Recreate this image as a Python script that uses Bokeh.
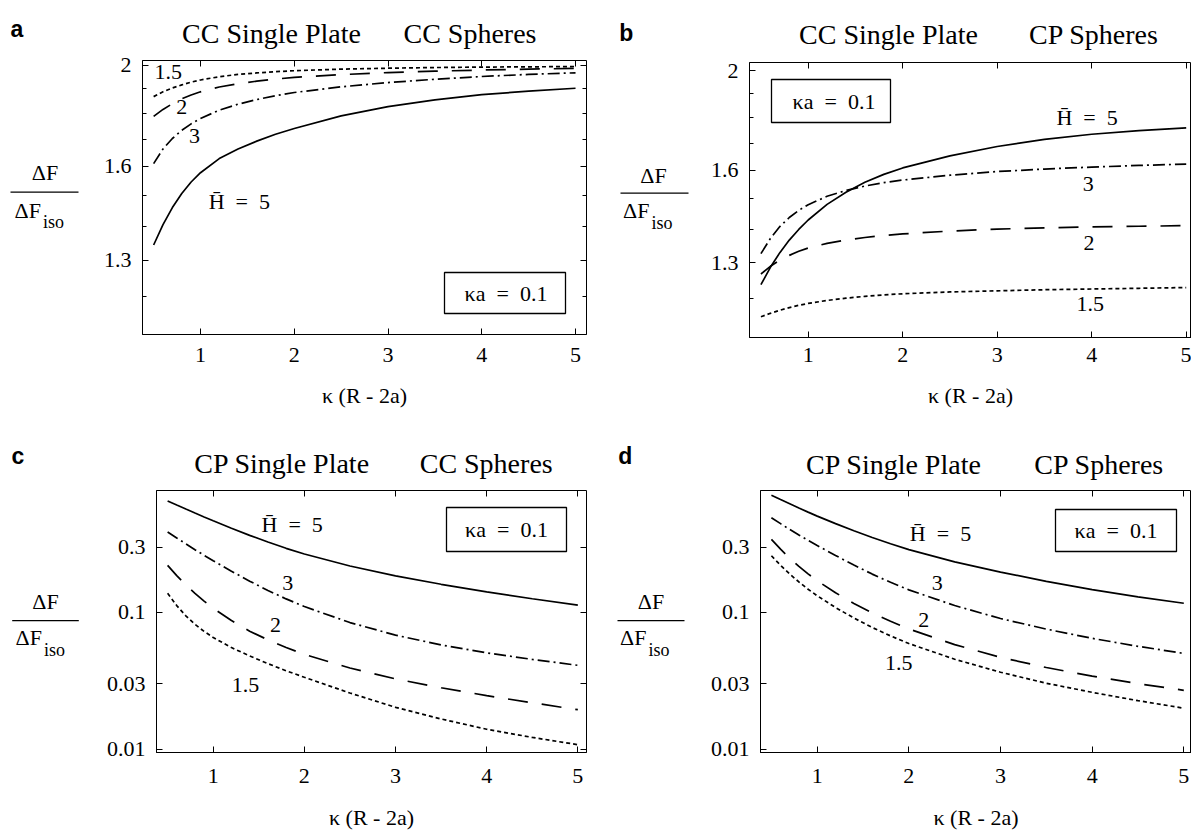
from bokeh.plotting import figure
from bokeh.models import (Range1d, FixedTicker, CustomJSTickFormatter, LinearAxis,
                          LogAxis, Label, BoxAnnotation)
from bokeh.core.properties import value
from bokeh.layouts import row, column
from bokeh.embed import file_html
from bokeh.resources import INLINE

SERIF = "Liberation Serif"
SANS = "Liberation Sans"

# ---------------- data ----------------
kappa_dist = [0.5, 0.6, 0.7, 0.8, 0.9, 1.0, 1.2, 1.4, 1.6, 1.8, 2.0, 2.5, 3.0, 3.5, 4.0, 4.5, 5.0]
H_values = ["5", "3", "2", "1.5"]

# a: CC single plate, CC spheres
a_H5 = [1.345, 1.407, 1.461, 1.507, 1.546, 1.578, 1.628, 1.663, 1.692, 1.718, 1.740, 1.789, 1.826, 1.854, 1.875, 1.890, 1.902]
a_H3 = [1.610, 1.663, 1.702, 1.733, 1.758, 1.779, 1.812, 1.836, 1.855, 1.871, 1.884, 1.908, 1.926, 1.940, 1.952, 1.961, 1.968]
a_H2 = [1.787, 1.815, 1.838, 1.858, 1.874, 1.887, 1.907, 1.921, 1.932, 1.941, 1.948, 1.960, 1.969, 1.975, 1.980, 1.984, 1.987]
a_H15 = [1.867, 1.887, 1.903, 1.916, 1.928, 1.937, 1.951, 1.961, 1.9675, 1.973, 1.977, 1.984, 1.988, 1.991, 1.993, 1.994, 1.9955]

# b: CC single plate, CP spheres
b_H5 = [1.238, 1.287, 1.330, 1.368, 1.401, 1.431, 1.482, 1.523, 1.557, 1.585, 1.608, 1.652, 1.687, 1.714, 1.734, 1.748, 1.759]
b_H3 = [1.327, 1.373, 1.410, 1.439, 1.462, 1.481, 1.509, 1.529, 1.544, 1.556, 1.565, 1.582, 1.595, 1.604, 1.611, 1.617, 1.622]
b_H2 = [1.268, 1.290, 1.308, 1.322, 1.334, 1.344, 1.358, 1.368, 1.376, 1.382, 1.387, 1.396, 1.402, 1.406, 1.409, 1.411, 1.413]
b_H15 = [1.152, 1.161, 1.169, 1.176, 1.182, 1.187, 1.195, 1.201, 1.206, 1.210, 1.213, 1.218, 1.221, 1.224, 1.226, 1.228, 1.230]

# c: CP single plate, CC spheres
c_H5 = [0.655, 0.611, 0.571, 0.534, 0.500, 0.469, 0.4135, 0.3667, 0.3278, 0.2947, 0.2676, 0.2188, 0.1851, 0.1607, 0.1416, 0.126, 0.113]
c_H3 = [0.388, 0.351, 0.318, 0.288, 0.262, 0.239, 0.2004, 0.1694, 0.1449, 0.1256, 0.1104, 0.0843, 0.0682, 0.0578, 0.0506, 0.0453, 0.041]
c_H2 = [0.221, 0.186, 0.159, 0.138, 0.121, 0.1074, 0.0873, 0.0729, 0.0630, 0.0553, 0.0493, 0.0392, 0.0326, 0.0281, 0.0246, 0.0218, 0.0194]
c_H15 = [0.138, 0.1122, 0.0944, 0.0818, 0.0726, 0.0656, 0.0553, 0.048, 0.0422, 0.0374, 0.0335, 0.0257, 0.0202, 0.0166, 0.01396, 0.01216, 0.01076]

# d: CP single plate, CP spheres
d_H5 = [0.720, 0.670, 0.624, 0.581, 0.5424, 0.507, 0.4467, 0.3963, 0.354, 0.3184, 0.2884, 0.2344, 0.1972, 0.169, 0.1469, 0.130, 0.1167]
d_H3 = [0.494, 0.4467, 0.405, 0.369, 0.3373, 0.309, 0.2612, 0.2221, 0.1908, 0.1661, 0.1463, 0.1123, 0.0902, 0.0755, 0.0646, 0.0565, 0.0501]
d_H2 = [0.3428, 0.2904, 0.2495, 0.2173, 0.1914, 0.1706, 0.1393, 0.1164, 0.0993, 0.0861, 0.0757, 0.0581, 0.0469, 0.0395, 0.0342, 0.0301, 0.0269]
d_H15 = [0.260, 0.2213, 0.191, 0.1671, 0.1479, 0.1324, 0.1086, 0.0910, 0.0776, 0.0673, 0.0592, 0.0454, 0.0365, 0.0303, 0.026, 0.0226, 0.0199]

x_ticks = [1, 2, 3, 4, 5]
y_ticks_top = [1.3, 1.6, 2]
y_minor_top = [1.2, 1.4, 1.5, 1.7, 1.8, 1.9]
y_ticks_bottom = [0.01, 0.03, 0.1, 0.3]

dash_styles = {"5": "solid", "3": "12 4 2 4", "2": "20 14", "1.5": "4 3"}


def blank_fig(width, height, xr, yr, **borders):
    f = figure(width=width, height=height, x_range=Range1d(*xr), y_range=Range1d(*yr),
               output_backend="svg", toolbar_location=None,
               x_axis_location=None, y_axis_location=None, **borders)
    f.outline_line_color = None
    f.background_fill_color = "white"
    f.border_fill_color = "white"
    f.grid.visible = False
    return f


def add_label(p, fr, X, Y, text, size=22):
    p.add_layout(Label(x=X - fr[0], y=fr[3] - Y, x_units="screen", y_units="screen",
                       text=text, text_font=SERIF, text_font_size=f"{size}px",
                       text_align="center", text_baseline="middle",
                       text_font_style="normal", text_color="black"))


def make_header(cfg):
    x0, y0, x1, y1 = cfg["head_box"]
    # data coordinates equal page pixels (y downwards)
    f = blank_fig(x1 - x0, y1 - y0, (x0, x1), (y1, y0), min_border=0)
    lx, ly = cfg["letter_pos"]
    f.text(x=[lx], y=[ly], text=[cfg["letter"]], text_font=value(SANS),
           text_font_style="bold", text_font_size="23px", text_align="center",
           text_baseline="alphabetic", text_color="black")
    tx = [t[1] for t in cfg["titles"]]
    ty = [t[2] for t in cfg["titles"]]
    tt = [t[0] for t in cfg["titles"]]
    f.text(x=tx, y=ty, text=tt, text_font=value(SERIF), text_font_size="28px",
           text_align="center", text_baseline="alphabetic", text_color="black")
    return f


def make_ylabel(cfg):
    x0, x1 = cfg["ylab_x"]
    px0, py0, px1, py1 = cfg["plot_box"]
    l, t, r, b = cfg["frame"]
    # same vertical borders as the plot, so its frame spans page rows t..b
    f = blank_fig(x1 - x0, py1 - py0, (x0, x1), (b, t), min_border_left=0,
                  min_border_right=0, min_border_top=t - py0, min_border_bottom=py1 - b)
    nx, ny, bx0, bx1, by, dy, dsplit = cfg["frac"]
    f.text(x=[nx], y=[ny - 2], text=["ΔF"], text_font=value(SERIF), text_font_size="22px",
           text_align="center", text_baseline="middle", text_color="black")
    f.segment(x0=[bx0], y0=[by], x1=[bx1], y1=[by], line_color="black", line_width=1.3)
    f.text(x=[dsplit], y=[dy - 2], text=["ΔF"], text_font=value(SERIF), text_font_size="22px",
           text_align="right", text_baseline="middle", text_color="black")
    f.text(x=[dsplit + 2], y=[dy + 10], text=["iso"], text_font=value(SERIF),
           text_font_size="18px", text_align="left", text_baseline="alphabetic",
           text_color="black")
    return f


def make_panel(cfg):
    fx0, fy0, fx1, fy1 = cfg["plot_box"]
    l, t, r, b = cfg["frame"]
    p = figure(width=fx1 - fx0, height=fy1 - fy0,
               x_range=Range1d(*cfg["xr"]), y_range=Range1d(*cfg["yr"]),
               y_axis_type="log", output_backend="svg", toolbar_location=None,
               min_border_left=l - fx0, min_border_right=fx1 - r,
               min_border_top=t - fy0, min_border_bottom=fy1 - b)
    p.background_fill_color = "white"
    p.border_fill_color = "white"
    p.outline_line_color = "black"
    p.outline_line_width = 1
    p.xgrid.visible = False
    p.ygrid.visible = False

    xa = p.below[0]
    xa.ticker = FixedTicker(ticks=x_ticks, minor_ticks=[])
    ya = p.left[0]
    ya.ticker = FixedTicker(ticks=cfg["yticks"], minor_ticks=cfg["yminor"])
    ya.formatter = CustomJSTickFormatter(code="return String(tick)")
    for ax in (xa, ya):
        ax.axis_line_color = "black"
        ax.major_tick_in = 6
        ax.major_tick_out = 0
        ax.minor_tick_in = 4
        ax.minor_tick_out = 0
        ax.major_tick_line_color = "black"
        ax.minor_tick_line_color = "black"
        ax.major_label_text_font = SERIF
        ax.major_label_text_font_size = "22px"
        ax.major_label_text_color = "black"
    xa.major_label_standoff = cfg["tick_standoff"]
    ya.major_label_standoff = 11
    xa.axis_label = "κ (R - 2a)"
    xa.axis_label_text_font = SERIF
    xa.axis_label_text_font_size = "22px"
    xa.axis_label_text_font_style = "normal"
    xa.axis_label_text_color = "black"
    xa.axis_label_standoff = cfg["label_standoff"]

    top = LinearAxis(ticker=FixedTicker(ticks=x_ticks, minor_ticks=[]),
                     formatter=CustomJSTickFormatter(code="return ''"),
                     major_tick_in=6, major_tick_out=0, major_label_standoff=0,
                     major_label_text_font_size="1px", axis_line_color=None,
                     minor_tick_line_color=None, major_tick_line_color="black")
    p.add_layout(top, "above")
    if cfg.get("right_axis", True):
        right = LogAxis(ticker=FixedTicker(ticks=cfg["yticks"], minor_ticks=cfg["yminor"]),
                        formatter=CustomJSTickFormatter(code="return ''"),
                        major_tick_in=6, major_tick_out=0, minor_tick_in=4, minor_tick_out=0,
                        major_label_standoff=0, major_label_text_font_size="1px",
                        axis_line_color=None, major_tick_line_color="black",
                        minor_tick_line_color="black")
        p.add_layout(right, "right")

    for name, ys in zip(H_values, cfg["series"]):
        p.line(kappa_dist, ys, line_color="black", line_width=1.7,
               line_dash=dash_styles[name])

    fr = cfg["frame"]
    bx0_, by0_, bx1_, by1_ = cfg["box"]
    p.add_layout(BoxAnnotation(left=bx0_ - fr[0], right=bx1_ - fr[0],
                               bottom=fr[3] - by1_, top=fr[3] - by0_,
                               left_units="screen", right_units="screen",
                               top_units="screen", bottom_units="screen",
                               fill_color=None, fill_alpha=0, line_color="black",
                               line_width=1.3, line_alpha=1))
    tx, ty = cfg["box_text"]
    add_label(p, fr, tx, ty, "κa\u2002=\u20020.1")

    for txt, X, Y in cfg["curve_labels"]:
        if txt == "5":
            txt = "H\u0304\u2002=\u20025"
        add_label(p, fr, X, Y, txt)
    return p


cfgs = [
    dict(letter="a", head_box=(0, 0, 595, 50), ylab_x=(0, 100),
         plot_box=(100, 50, 595, 430), frame=(142, 60, 586, 334),
         xr=(0.3813, 5.117), yr=(1.1036, 2.0222), yticks=y_ticks_top, yminor=y_minor_top,
         tick_standoff=13, label_standoff=18,
         series=[a_H5, a_H3, a_H2, a_H15], letter_pos=(16.5, 28),
         titles=[("CC Single Plate", 271, 33), ("CC Spheres", 469.5, 33)],
         frac=(44.5, 173.5, 10, 78, 191.7, 211.7, 40.5),
         box=(444, 272, 565, 313), box_text=(505.5, 292.5),
         curve_labels=[("1.5", 167.8, 71), ("2", 181.2, 106), ("3", 193.9, 135.9), ("5", 238.8, 200.8)]),
    dict(letter="b", head_box=(595, 0, 1191, 50), ylab_x=(595, 695),
         plot_box=(695, 50, 1191, 430), frame=(749, 62, 1191, 337),
         xr=(0.379, 5.056), yr=(1.0998, 2.0364), yticks=y_ticks_top, yminor=y_minor_top,
         tick_standoff=10, label_standoff=18,
         series=[b_H5, b_H3, b_H2, b_H15], letter_pos=(625.7, 32), right_axis=False,
         titles=[("CC Single Plate", 888, 33.6), ("CP Spheres", 1093.5, 33.6)],
         frac=(653, 177, 620, 688, 192.7, 212, 649),
         box=(771, 79, 890, 122), box_text=(833.5, 100.5),
         curve_labels=[("5", 1086.6, 116.6), ("3", 1087.8, 183), ("2", 1088.6, 242.4), ("1.5", 1089.7, 303.7)]),
    dict(letter="c", head_box=(0, 430, 595, 480), ylab_x=(0, 100),
         plot_box=(100, 480, 595, 832), frame=(156, 490, 586, 753),
         xr=(0.378, 5.095), yr=(0.00943, 0.781), yticks=y_ticks_bottom, yminor=[],
         tick_standoff=16, label_standoff=19,
         series=[c_H5, c_H3, c_H2, c_H15], letter_pos=(17.3, 455),
         titles=[("CP Single Plate", 281.7, 463), ("CC Spheres", 485.7, 463)],
         frac=(45, 603.3, 11.7, 78.3, 620.7, 640, 41.5),
         box=(446, 508, 566, 552), box_text=(506, 530),
         curve_labels=[("5", 291.7, 525), ("3", 287.3, 583.3), ("2", 275, 625), ("1.5", 245, 685)]),
    dict(letter="d", head_box=(595, 430, 1191, 480), ylab_x=(595, 695),
         plot_box=(695, 480, 1191, 832), frame=(760, 490, 1191, 753),
         xr=(0.381, 5.084), yr=(0.00943, 0.781), yticks=y_ticks_bottom, yminor=[],
         tick_standoff=16, label_standoff=19,
         series=[d_H5, d_H3, d_H2, d_H15], letter_pos=(624.8, 455), right_axis=False,
         titles=[("CP Single Plate", 893.5, 464), ("CP Spheres", 1098.8, 464)],
         frac=(650.5, 603, 617, 684, 620.7, 640, 646),
         box=(1055, 510, 1176, 552), box_text=(1115.5, 531),
         curve_labels=[("5", 940, 534), ("3", 936.7, 583.3), ("2", 923.3, 620), ("1.5", 898.3, 663.3)]),
]

blocks = []
for c in cfgs:
    blocks.append(column(make_header(c), row(make_ylabel(c), make_panel(c))))

layout = column(row(blocks[0], blocks[1]), row(blocks[2], blocks[3]))
open("out.html", "w").write(file_html(layout, INLINE))
